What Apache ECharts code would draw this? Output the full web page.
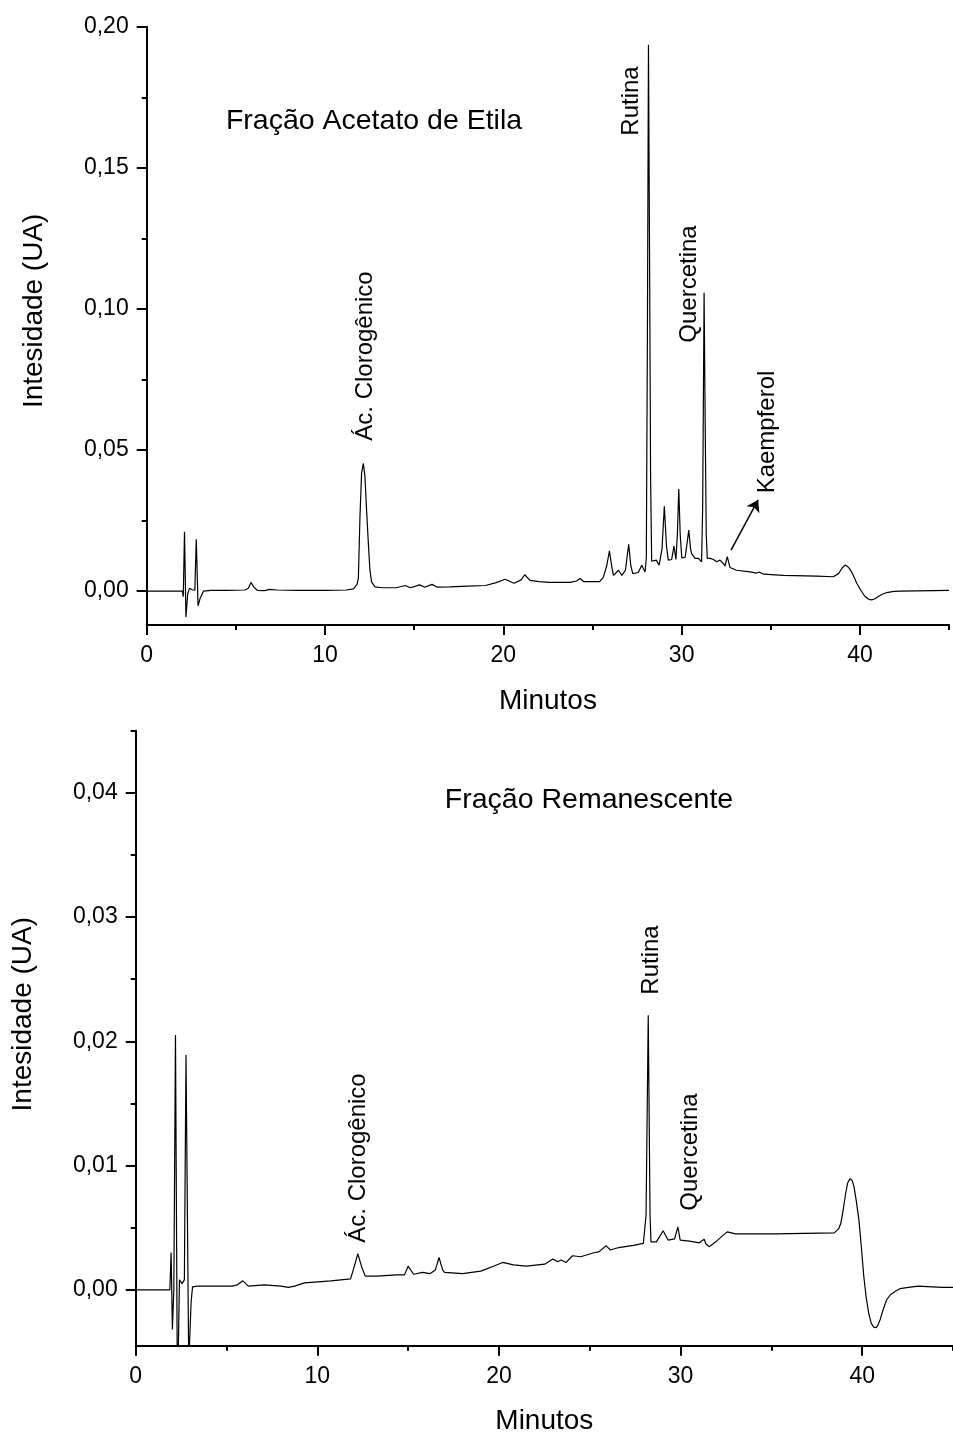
<!DOCTYPE html>
<html>
<head>
<meta charset="utf-8">
<script src="https://cdn.jsdelivr.net/npm/echarts@6/dist/echarts.min.js"></script>
<style>
html,body{margin:0;padding:0;background:#fff;}
#chart{width:953px;height:1437px;}
</style>
</head>
<body>
<div id="chart"></div>
<script>
// ---------- DATA ----------
// Top: Fração Acetato de Etila
var topTime = [0,1.0,2.0,2.05,2.12,2.2,2.3,2.4,2.55,2.7,2.78,2.88,3.0,3.18,3.6,4.5,5.5,5.7,5.85,6.0,6.2,6.6,6.9,7.3,8.5,10,11.2,11.6,11.8,11.87,11.96,12.05,12.15,12.24,12.33,12.43,12.52,12.61,12.8,13.2,14.0,14.5,14.8,15.3,15.6,16.0,16.3,17.0,18.0,19.0,19.6,20.1,20.6,21.0,21.2,21.5,22.0,22.6,23.74,24.1,24.3,24.5,25.4,25.6,25.8,25.95,26.1,26.18,26.46,26.65,26.85,27.03,27.15,27.26,27.57,27.76,27.95,28.02,28.08,28.14,28.2,28.26,28.32,28.4,28.58,28.74,28.9,29.03,29.15,29.25,29.44,29.57,29.68,29.76,29.84,29.92,30.01,30.2,30.4,30.5,30.56,30.75,30.94,31.12,31.18,31.26,31.32,31.38,31.44,31.6,31.78,31.97,32.15,32.34,32.43,32.56,32.71,33.08,33.83,34.2,34.35,34.6,35.7,37.58,38.5,38.8,39.0,39.16,39.3,39.44,39.6,39.82,40.05,40.28,40.5,40.66,40.85,41.03,41.25,41.5,41.9,42.24,45];
var topIntensity = [0,0,0,-0.002,0.021,-0.0092,-0.001,0.001,0.0005,0.0003,0.0184,-0.0052,-0.0025,0.0,0.0003,0.0003,0.0004,0.001,0.0031,0.0015,0.0003,0.0002,0.0006,0.0004,0.0003,0.0003,0.0004,0.0008,0.0025,0.0045,0.0263,0.0417,0.0453,0.0406,0.0288,0.017,0.0075,0.0033,0.0015,0.0012,0.0012,0.002,0.0012,0.0022,0.0014,0.0024,0.0014,0.0015,0.0018,0.002,0.003,0.0042,0.0028,0.004,0.0058,0.0038,0.0034,0.0031,0.0031,0.0036,0.0045,0.0034,0.0034,0.0048,0.009,0.0143,0.008,0.0056,0.0074,0.0056,0.0075,0.0166,0.009,0.0062,0.0066,0.0092,0.0068,0.012,0.09,0.1936,0.12,0.04,0.0106,0.0104,0.011,0.0092,0.015,0.0301,0.016,0.011,0.0112,0.016,0.0112,0.02,0.0362,0.02,0.0118,0.012,0.0216,0.015,0.0133,0.0116,0.0116,0.0104,0.03,0.1057,0.06,0.02,0.0116,0.0116,0.0112,0.0104,0.011,0.0098,0.0089,0.0122,0.0084,0.0074,0.0068,0.0064,0.0068,0.006,0.0056,0.0053,0.0051,0.0062,0.0082,0.0092,0.0088,0.0078,0.006,0.0028,0.0003,-0.0019,-0.0029,-0.0031,-0.0027,-0.0019,-0.0011,-0.0005,-0.0001,0.0,0.0003];

// Bottom: Fração Remanescente
var bottomTime = [0,1.0,1.88,1.95,2.02,2.1,2.19,2.3,2.41,2.55,2.68,2.77,2.92,3.05,3.13,3.4,4.5,5.3,5.6,5.9,6.2,7.1,8.0,8.4,8.75,9.3,10.75,11.83,12.0,12.23,12.45,12.64,13.27,14.36,14.8,15.0,15.3,15.8,16.2,16.5,16.7,16.9,17.0,18.0,19.0,19.7,20.2,20.8,21.5,22.52,22.97,23.24,23.42,23.7,24.05,24.5,25.23,25.5,25.9,26.14,26.6,27.41,27.95,28.1,28.22,28.32,28.37,28.67,29.04,29.31,29.67,29.85,29.98,30.49,31.03,31.3,31.39,31.58,31.94,32.3,32.57,33.02,35.2,38.46,38.7,38.82,38.95,39.09,39.2,39.33,39.45,39.55,39.68,39.82,39.95,40.09,40.22,40.36,40.5,40.64,40.78,40.88,40.99,41.15,41.35,41.55,41.81,42.1,42.45,43.08,44.4,45];
var bottomIntensity = [0,0,0,0.003,-0.0032,0.0,0.0205,-0.009,0.0008,0.0005,0.0008,0.0189,-0.006,-0.001,0.00024,0.0003,0.0003,0.0003,0.0004,0.00072,0.0003,0.0004,0.0003,0.00019,0.0003,0.00056,0.00072,0.00088,0.0017,0.0029,0.0018,0.0011,0.0011,0.0012,0.0012,0.0019,0.00125,0.0014,0.0013,0.0016,0.0026,0.0016,0.0014,0.0013,0.0015,0.0019,0.0022,0.0020,0.0019,0.00206,0.00247,0.00226,0.0024,0.0022,0.00274,0.00266,0.00298,0.00305,0.00354,0.0032,0.0034,0.00357,0.00373,0.006,0.0221,0.006,0.00386,0.00386,0.00475,0.004,0.0041,0.00507,0.004,0.00392,0.00378,0.00407,0.0037,0.00346,0.00386,0.00434,0.00466,0.0045,0.0045,0.00458,0.0049,0.00533,0.0064,0.00775,0.0086,0.00895,0.0088,0.0083,0.0071,0.00563,0.0035,0.00105,-0.0006,-0.0019,-0.0027,-0.003,-0.00304,-0.0028,-0.0024,-0.0016,-0.0008,-0.0004,-0.00014,0.0001,0.00018,0.0003,0.0002,0.0002];

// Axis ticks
var xMajorTicks = [0, 10, 20, 30, 40];
var xMinorTicks = [5, 15, 25, 35, 45];
var topYMajorTicks = [0, 0.05, 0.10, 0.15, 0.20];
var topYMinorTicks = [0.025, 0.075, 0.125, 0.175];
var bottomYMajorTicks = [0, 0.01, 0.02, 0.03, 0.04];
var bottomYMinorTicks = [0.005, 0.015, 0.025, 0.035, 0.045];

// Annotations
var kaempferolArrow = [[32.77, 0.0145], [34.29, 0.0323]];

// ---------- CHART ----------
var FONT = "'Liberation Sans', Arial, sans-serif";
function pairs(t, v) { return t.map(function (x, i) { return [x, v[i]]; }); }
function fmt(v) { return v.toFixed(2).replace('.', ','); }

function majorX(gi) {
  return {
    type: 'value', gridIndex: gi, min: 0, max: 45, position: 'bottom',
    name: 'Minutos', nameLocation: 'middle', nameGap: 62,
    nameTextStyle: { fontFamily: FONT, fontSize: 28, color: '#000' },
    axisLine: { onZero: false, lineStyle: { color: '#000', width: 2 } },
    axisTick: { customValues: xMajorTicks, length: 10, lineStyle: { color: '#000', width: 2 } },
    axisLabel: { customValues: xMajorTicks, margin: 19, fontFamily: FONT, fontSize: 23, color: '#000' },
    splitLine: { show: false }
  };
}
function minorX(gi) {
  return {
    type: 'value', gridIndex: gi, min: 0, max: 45, position: 'bottom',
    axisLine: { show: false, onZero: false },
    axisTick: { customValues: xMinorTicks, length: 5, lineStyle: { color: '#000', width: 2 } },
    axisLabel: { show: false }, splitLine: { show: false }
  };
}
function majorY(gi, min, max, ticks, pad) {
  return {
    type: 'value', gridIndex: gi, min: min, max: max, position: 'left',
    name: 'Intesidade (UA)', nameLocation: 'middle', nameGap: 98,
    nameTextStyle: { fontFamily: FONT, fontSize: 28, color: '#000', padding: pad },
    axisLine: { onZero: false, lineStyle: { color: '#000', width: 2 } },
    axisTick: { customValues: ticks, length: 10, lineStyle: { color: '#000', width: 2 } },
    axisLabel: { customValues: ticks, margin: 18, fontFamily: FONT, fontSize: 23, color: '#000', formatter: fmt },
    splitLine: { show: false }
  };
}
function minorY(gi, min, max, ticks) {
  return {
    type: 'value', gridIndex: gi, min: min, max: max, position: 'left',
    axisLine: { show: false, onZero: false },
    axisTick: { customValues: ticks, length: 5, lineStyle: { color: '#000', width: 2 } },
    axisLabel: { show: false }, splitLine: { show: false }
  };
}

function vtext(txt, x, y) {
  return { type: 'text', x: x, y: y, rotation: Math.PI / 2,
    style: { text: txt, font: '24px ' + FONT, fill: '#000', align: 'center', verticalAlign: 'middle' } };
}
function htext(txt, x, y) {
  return { type: 'text', x: x, y: y,
    style: { text: txt, font: '28.5px ' + FONT, fill: '#000', align: 'center', verticalAlign: 'middle' } };
}

var chart = echarts.init(document.getElementById('chart'), null, { renderer: 'canvas' });
chart.setOption({
  animation: false,
  backgroundColor: '#fff',
  grid: [
    { left: 146.7, top: 26.7, width: 802.4, height: 598.3 },
    { left: 135.7, top: 730.7, width: 828, height: 615 }
  ],
  xAxis: [majorX(0), majorX(1), minorX(0), minorX(1)],
  yAxis: [
    majorY(0, -0.012, 0.20, topYMajorTicks, [0, 0, 0, 30]),
    majorY(1, -0.0045, 0.045, bottomYMajorTicks, [0, 0, 0, 48]),
    minorY(0, -0.012, 0.20, topYMinorTicks),
    minorY(1, -0.0045, 0.045, bottomYMinorTicks)
  ],
  series: [
    {
      type: 'line', xAxisIndex: 0, yAxisIndex: 0, data: pairs(topTime, topIntensity),
      showSymbol: false, symbol: 'none', lineStyle: { color: '#000', width: 1.2 }, clip: true,
      markLine: {
        silent: true, symbol: ['none', 'arrow'], symbolSize: 11,
        lineStyle: { color: '#000', width: 1.5, type: 'solid' }, label: { show: false },
        data: [[{ coord: kaempferolArrow[0] }, { coord: kaempferolArrow[1] }]]
      }
    },
    {
      type: 'line', xAxisIndex: 1, yAxisIndex: 1, data: pairs(bottomTime, bottomIntensity),
      showSymbol: false, symbol: 'none', lineStyle: { color: '#000', width: 1.2 }, clip: true
    }
  ],
  graphic: [
    htext('Fração Acetato de Etila', 374, 121),
    vtext('Ác. Clorogênico', 365, 356),
    vtext('Rutina', 631, 101),
    vtext('Quercetina', 689, 284),
    vtext('Kaempferol', 767, 432),
    htext('Fração Remanescente', 589, 800),
    vtext('Ác. Clorogênico', 358, 1158),
    vtext('Rutina', 651, 960),
    vtext('Quercetina', 690, 1152)
  ]
});
</script>
</body>
</html>
